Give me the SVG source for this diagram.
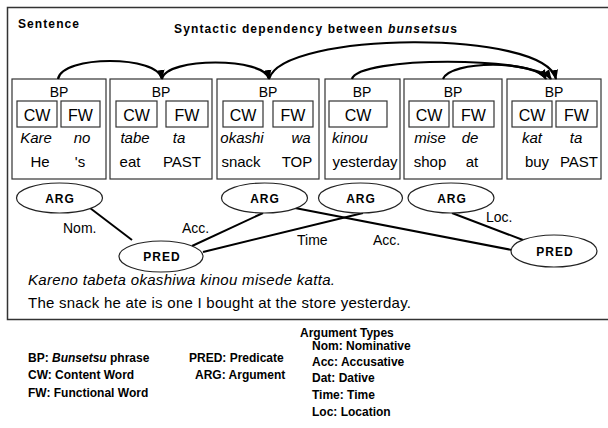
<svg xmlns="http://www.w3.org/2000/svg" width="608" height="428" viewBox="0 0 608 428">
<style>
text{font-family:"Liberation Sans",Arial,sans-serif;fill:#000}
.b{font-weight:bold;font-size:12px}
.bp{font-size:14px;text-anchor:middle}
.wb{font-size:16px;text-anchor:middle}
.it{font-size:15px;font-style:italic;text-anchor:middle}
.en{font-size:15px;text-anchor:middle}
.box{fill:#fff;stroke:#333;stroke-width:1.2}
.ell{fill:#fff;stroke:#222;stroke-width:1.2}
.ln{stroke:#000;stroke-width:2;fill:none}
.arc{stroke:#000;stroke-width:2.2;fill:none;marker-end:url(#ah)}
.lbl{font-size:14px}
.node{font-size:12px;font-weight:bold;text-anchor:middle;letter-spacing:1px}
</style>
<defs>
<marker id="ah" markerUnits="userSpaceOnUse" markerWidth="10" markerHeight="10" viewBox="0 0 10 10" refX="9" refY="5" orient="auto">
<path d="M0,1 L10,5 L0,9 z" fill="#000"/>
</marker>
</defs>
<rect x="7.5" y="7.5" width="610" height="312" fill="#fff" stroke="#333" stroke-width="1.5"/>
<text class="b" x="18" y="28" textLength="61" lengthAdjust="spacing">Sentence</text>
<text class="b" x="174" y="33" textLength="283" lengthAdjust="spacing">Syntactic dependency between <tspan font-style="italic">bunsetsu</tspan>s</text>

<g id="bp1">
<rect class="box" x="12" y="79" width="94" height="100"/>
<text class="bp" x="59" y="97">BP</text>
<rect class="box" x="17" y="101" width="40" height="26"/>
<rect class="box" x="61" y="101" width="39" height="26"/>
<text class="wb" x="37" y="121">CW</text>
<text class="wb" x="80.5" y="121">FW</text>
<text class="it" x="36" y="143">Kare</text>
<text class="it" x="82" y="143">no</text>
<text class="en" x="40" y="167">He</text>
<text class="en" x="80" y="167">'s</text>
</g>
<g id="bp2">
<rect class="box" x="110" y="79" width="102" height="100"/>
<text class="bp" x="161" y="97">BP</text>
<rect class="box" x="116" y="101" width="41" height="26"/>
<rect class="box" x="166" y="101" width="42" height="26"/>
<text class="wb" x="136.5" y="121">CW</text>
<text class="wb" x="187" y="121">FW</text>
<text class="it" x="135" y="143">tabe</text>
<text class="it" x="179" y="143">ta</text>
<text class="en" x="130" y="167">eat</text>
<text class="en" x="182" y="167">PAST</text>
</g>
<g id="bp3">
<rect class="box" x="217" y="79" width="102" height="100"/>
<text class="bp" x="268" y="97">BP</text>
<rect class="box" x="223" y="101" width="40" height="26"/>
<rect class="box" x="273" y="101" width="40" height="26"/>
<text class="wb" x="243" y="121">CW</text>
<text class="wb" x="293" y="121">FW</text>
<text class="it" x="242" y="143">okashi</text>
<text class="it" x="301" y="143">wa</text>
<text class="en" x="241" y="167">snack</text>
<text class="en" x="297" y="167">TOP</text>
</g>
<g id="bp4">
<rect class="box" x="325" y="79" width="75" height="100"/>
<text class="bp" x="362" y="97">BP</text>
<rect class="box" x="329" y="101" width="58" height="26"/>
<text class="wb" x="358" y="121">CW</text>
<text class="it" x="350" y="143">kinou</text>
<text class="en" x="365" y="167">yesterday</text>
</g>
<g id="bp5">
<rect class="box" x="404" y="79" width="98" height="100"/>
<text class="bp" x="453" y="97">BP</text>
<rect class="box" x="409" y="101" width="40" height="26"/>
<rect class="box" x="453" y="101" width="41" height="26"/>
<text class="wb" x="429" y="121">CW</text>
<text class="wb" x="473.5" y="121">FW</text>
<text class="it" x="430" y="143">mise</text>
<text class="it" x="470" y="143">de</text>
<text class="en" x="430" y="167">shop</text>
<text class="en" x="472" y="167">at</text>
</g>
<g id="bp6">
<rect class="box" x="507" y="79" width="94" height="100"/>
<text class="bp" x="554" y="97">BP</text>
<rect class="box" x="512" y="101" width="40" height="26"/>
<rect class="box" x="556" y="101" width="41" height="26"/>
<text class="wb" x="532" y="121">CW</text>
<text class="wb" x="576.5" y="121">FW</text>
<text class="it" x="532" y="143">kat</text>
<text class="it" x="576" y="143">ta</text>
<text class="en" x="537" y="167">buy</text>
<text class="en" x="579" y="167">PAST</text>
</g>

<g id="connectors">
<path class="arc" d="M58,79 C62,55 158,55 162,79"/>
<path class="arc" d="M162,79 C166,57 265,57 269,79"/>
<path class="arc" d="M269,79 C282,31 545,29 556,79"/>
<path class="arc" d="M352,79 C358,56 535,56 551,79"/>
<path class="arc" d="M443,79 C450,60 535,60 546,79"/>
<line class="ln" x1="90" y1="208" x2="132" y2="240"/>
<line class="ln" x1="263" y1="213" x2="192" y2="246"/>
<line class="ln" x1="363" y1="213" x2="203" y2="252"/>
<line class="ln" x1="295" y1="208" x2="512" y2="250"/>
<line class="ln" x1="452" y1="213" x2="523" y2="240"/>
<text class="lbl" x="63" y="233">Nom.</text>
<text class="lbl" x="182" y="233">Acc.</text>
<text class="lbl" x="297" y="245">Time</text>
<text class="lbl" x="373" y="245">Acc.</text>
<text class="lbl" x="486" y="222">Loc.</text>
</g>

<g id="arg1"><ellipse class="ell" cx="59.5" cy="198" rx="43" ry="15"/><text class="node" x="60" y="203">ARG</text></g>
<g id="arg2"><ellipse class="ell" cx="264.5" cy="198" rx="43" ry="15"/><text class="node" x="265" y="203">ARG</text></g>
<g id="arg3"><ellipse class="ell" cx="360.5" cy="198" rx="42" ry="15"/><text class="node" x="361" y="203">ARG</text></g>
<g id="arg4"><ellipse class="ell" cx="451" cy="198" rx="43" ry="15"/><text class="node" x="452" y="203">ARG</text></g>
<g id="pred1"><ellipse class="ell" cx="161" cy="256.5" rx="42" ry="15.5"/><text class="node" x="162" y="261">PRED</text></g>
<g id="pred2"><ellipse class="ell" cx="554" cy="251" rx="43" ry="16"/><text class="node" x="555" y="256">PRED</text></g>

<text x="28" y="285" font-size="15" font-style="italic" textLength="307" lengthAdjust="spacing">Kareno tabeta okashiwa kinou misede katta.</text>
<text x="28" y="308" font-size="15" textLength="383" lengthAdjust="spacing">The snack he ate is one I bought at the store yesterday.</text>

<g id="legend">
<text class="b" x="28" y="362">BP: <tspan font-style="italic">Bunsetsu</tspan> phrase</text>
<text class="b" x="28" y="379">CW: Content Word</text>
<text class="b" x="28" y="397">FW: Functional Word</text>
<text class="b" x="189" y="362">PRED: Predicate</text>
<text class="b" x="195" y="379">ARG: Argument</text>
<text class="b" x="300" y="337">Argument Types</text>
<text class="b" x="312" y="350">Nom: Nominative</text>
<text class="b" x="312" y="366">Acc: Accusative</text>
<text class="b" x="312" y="382">Dat: Dative</text>
<text class="b" x="312" y="399">Time: Time</text>
<text class="b" x="312" y="416">Loc: Location</text>
</g>
</svg>
